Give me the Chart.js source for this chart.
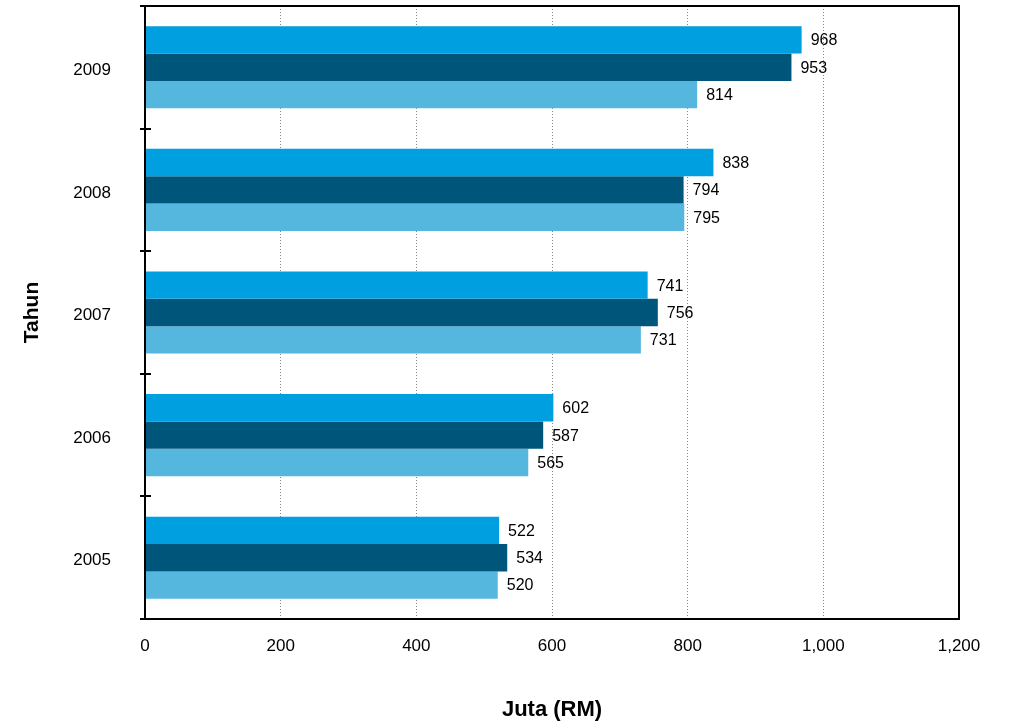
<!DOCTYPE html>
<html>
<head>
<meta charset="utf-8">
<script src="https://cdn.jsdelivr.net/npm/chart.js@4/dist/chart.umd.min.js"></script>
<style>
  html, body { margin: 0; padding: 0; background: #fff; }
  #wrap { width: 1009px; height: 727px; }
</style>
</head>
<body>
<div id="wrap"><canvas id="c" width="1009" height="727"></canvas></div>
<script>
const years = ['2009', '2008', '2007', '2006', '2005'];
const seriesA = [968, 838, 741, 602, 522];
const seriesB = [953, 794, 756, 587, 534];
const seriesC = [814, 795, 731, 565, 520];
const xTicks = [0, 200, 400, 600, 800, 1000, 1200];

const FONT = '"Liberation Sans", Arial, sans-serif';

const valueLabels = {
  id: 'valueLabels',
  afterDatasetsDraw(chart) {
    const ctx = chart.ctx;
    ctx.save();
    ctx.font = '16px ' + FONT;
    ctx.fillStyle = '#000';
    ctx.textAlign = 'left';
    ctx.textBaseline = 'middle';
    chart.data.datasets.forEach((ds, i) => {
      chart.getDatasetMeta(i).data.forEach((bar, j) => {
        ctx.fillText(String(ds.data[j]), bar.x + 9, bar.y + 1);
      });
    });
    ctx.restore();
  }
};

const frame = {
  id: 'frame',
  afterDraw(chart) {
    const ctx = chart.ctx;
    const a = chart.chartArea;
    ctx.save();
    ctx.strokeStyle = '#000';
    ctx.lineWidth = 2;
    ctx.strokeRect(a.left, a.top, a.right - a.left, a.bottom - a.top);
    const n = years.length;
    const h = (a.bottom - a.top) / n;
    ctx.beginPath();
    for (let i = 0; i <= n; i++) {
      const yy = Math.round(a.top + i * h);
      ctx.moveTo(a.left - 5, yy);
      ctx.lineTo(a.left + 6, yy);
    }
    ctx.stroke();
    ctx.restore();
  }
};

new Chart(document.getElementById('c'), {
  type: 'bar',
  data: {
    labels: years,
    datasets: [
      { data: seriesA, backgroundColor: '#009FE0' },
      { data: seriesB, backgroundColor: '#00557A' },
      { data: seriesC, backgroundColor: '#55B6DE' }
    ]
  },
  options: {
    indexAxis: 'y',
    responsive: false,
    animation: false,
    devicePixelRatio: 1,
    layout: { padding: { top: 6, right: 50, left: 0, bottom: 0 } },
    datasets: { bar: { categoryPercentage: 0.67, barPercentage: 1.0, borderWidth: 0 } },
    plugins: { legend: { display: false }, tooltip: { enabled: false } },
    scales: {
      x: {
        min: 0, max: 1200,
        afterBuildTicks(scale) { scale.ticks = xTicks.map(v => ({ value: v })); },
        afterFit(scale) { scale.height = 108; },
        grid: {
          drawTicks: false,
          color: ctx => (ctx.tick && (ctx.tick.value === 0 || ctx.tick.value === 1200)) ? 'rgba(0,0,0,0)' : '#888',
          lineWidth: 1
        },
        border: { display: false, dash: [1, 2] },
        ticks: {
          padding: 17,
          color: '#000',
          font: { family: FONT, size: 17 },
          callback: v => Number(v).toLocaleString('en-US')
        },
        title: {
          display: true,
          text: 'Juta (RM)',
          color: '#000',
          font: { family: FONT, size: 22, weight: 'bold' },
          padding: { top: 0, bottom: 4 }
        }
      },
      y: {
        afterFit(scale) { scale.width = 145; },
        grid: {
          display: true,
          drawOnChartArea: false,
          drawTicks: true,
          tickLength: 34,
          tickColor: 'rgba(0,0,0,0)',
          color: 'rgba(0,0,0,0)'
        },
        border: { display: false },
        ticks: {
          padding: 0,
          labelOffset: 3,
          color: '#000',
          font: { family: FONT, size: 17, lineHeight: 0.7 }
        },
        title: {
          display: true,
          text: 'Tahun',
          color: '#000',
          font: { family: FONT, size: 21, weight: 'bold' },
          padding: { top: 20, bottom: 0 }
        }
      }
    }
  },
  plugins: [valueLabels, frame]
});
</script>
</body>
</html>
